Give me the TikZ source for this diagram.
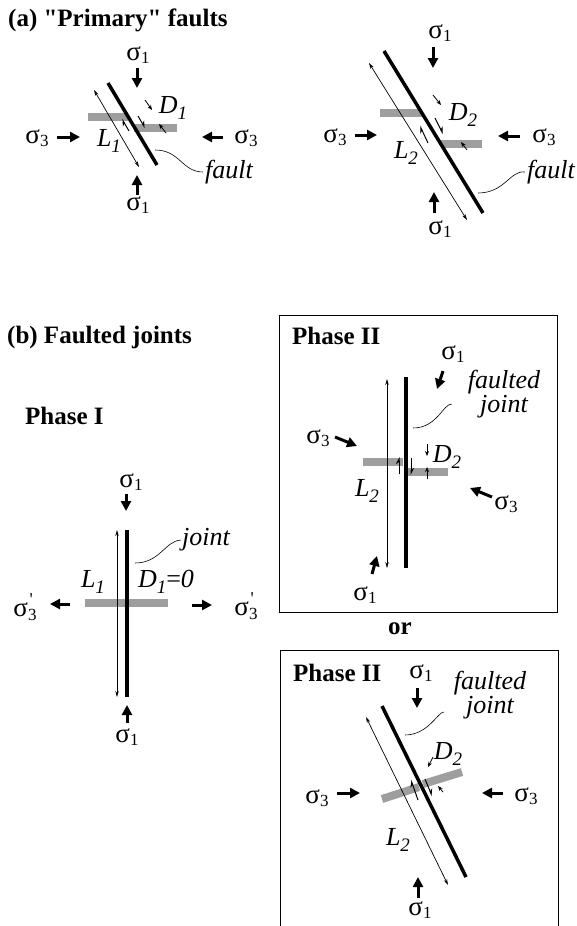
\documentclass[tikz,border=0pt]{standalone}
\usepackage{fontspec}
\setmainfont{Liberation Serif}[Ligatures=TeXOff]
\usetikzlibrary{arrows.meta,positioning,calc}

\newcommand{\sg}[1]{σ\raisebox{-3pt}{\fontsize{17}{17}\selectfont #1}}
\newcommand{\sgp}[1]{σ\raisebox{-4pt}{\fontsize{17}{17}\selectfont\makebox[0pt][l]{\raisebox{15pt}{\kern1.5pt\fontsize{18}{18}\selectfont\symbol{39}}}#1}}
\newcommand{\ilab}[2]{\textit{#1\raisebox{-6pt}{\fontsize{19}{19}\selectfont #2}}}

\begin{document}
\begin{tikzpicture}[x=1pt,y=-1pt,
  lbl/.style={inner sep=0pt,font=\fontsize{27}{27}\selectfont},
  ttl/.style={inner sep=0pt,anchor=base west,font=\fontsize{25}{25}\selectfont\bfseries},
  ital/.style={inner sep=0pt,font=\fontsize{26}{26}\selectfont\itshape},
  stress/.style={line width=3pt,-{Triangle[length=10pt,width=10pt]}},
  fault/.style={line width=3.5pt},
  len/.style={line width=0.7pt,{Stealth[length=6pt,width=3.5pt]}-{Stealth[length=6pt,width=3.5pt]}},
  slip/.style={line width=1pt,-{Stealth[harpoon,length=6pt,width=6pt]}},
  dmark/.style={line width=0.8pt,-{Stealth[length=5pt,width=4pt]}},
  band/.style={line width=8pt,draw=black!38},
  lead/.style={line width=0.6pt},
  frame/.style={line width=0.8pt}]
  \useasboundingbox (0,0) rectangle (576,926);

  % (a) primary fault, short
  \node[ttl] (titleA) at (8,26) {(a) "Primary" faults};
  \draw[band] (88,116.5) -- (128,116.5);
  \draw[band] (134,127.5) -- (177,127.5);
  \coordinate (fA1) at (108,83);
  \coordinate (fA2) at (157,165);
  \draw[fault] (fA1) -- (fA2);
  \draw[len] (94,90) -- (139,167);
  \draw[slip] (129,131) -- (122,119);
  \draw[slip] (138,116) -- (145,128);
  \draw[dmark] (145,100) -- (152,110);
  \draw[dmark] (166,133) -- (159,124);
  \draw[stress] (137,68) -- (137,88);
  \draw[stress] (137,195) -- (137,175);
  \draw[stress] (57,137) -- (80,137);
  \draw[stress] (223,137) -- (202,137);
  \node[lbl] (s1At) at (138,55) {\sg{1}};
  \node[lbl] (s1Ab) at (138,205) {\sg{1}};
  \node[lbl] (s3Al) at (37,138) {\sg{3}};
  \node[lbl] (s3Ar) at (246,138) {\sg{3}};
  \node[ital] (LA) at (109,141) {\ilab{L}{1}};
  \node[ital] (DA) at (173,108) {\ilab{D}{1}};
  \node[ital] (fltA) at (229,172) {fault};
  \coordinate (lA) at (155,150);
  \draw[lead] (lA) .. controls (180,150) and (182,172) .. ([xshift=-2pt]fltA.west);

  % (a) primary fault, long
  \draw[band] (380,113) -- (422,113);
  \draw[band] (441,144) -- (482,144);
  \coordinate (fB1) at (384,51);
  \coordinate (fB2) at (483,213);
  \draw[fault] (fB1) -- (fB2);
  \draw[len] (369,63) -- (467,220);
  \draw[slip] (428,143) -- (420,126);
  \draw[slip] (435,118) -- (443,134);
  \draw[dmark] (433,95) -- (441,105);
  \draw[dmark] (467,150) -- (461,142);
  \draw[stress] (433,47) -- (433,68);
  \draw[stress] (434,213) -- (434,192);
  \draw[stress] (355,135) -- (377,135);
  \draw[stress] (520,136) -- (498,136);
  \node[lbl] (s1Bt) at (440,33) {\sg{1}};
  \node[lbl] (s1Bb) at (440,229) {\sg{1}};
  \node[lbl] (s3Bl) at (335,137) {\sg{3}};
  \node[lbl] (s3Br) at (544,137) {\sg{3}};
  \node[ital] (LB) at (406,153) {\ilab{L}{2}};
  \node[ital] (DB) at (463,115) {\ilab{D}{2}};
  \node[ital] (fltB) at (551,172) {fault};
  \coordinate (lB) at (478,193);
  \draw[lead] (lB) .. controls (505,193) and (510,170) .. ([xshift=-2pt]fltB.west);

  % (b) phase I, opening joint
  \node[ttl] (titleB) at (7,343) {(b) Faulted joints};
  \node[ttl] (ph1) at (25,424) {Phase I};
  \draw[band] (85,603) -- (168,603);
  \draw[fault] (127,530) -- (127,697);
  \draw[len] (117,530) -- (117,697);
  \draw[stress] (126,494) -- (126,511);
  \draw[stress] (127,723) -- (127,705);
  \draw[stress] (70,604) -- (50,604);
  \draw[stress] (192,605) -- (212,605);
  \node[lbl] (s1Ct) at (131,482) {\sg{1}};
  \node[lbl] (s1Cb) at (127,737) {\sg{1}};
  \node[lbl] (s3Cl) at (25,607) {\sgp{3}};
  \node[lbl] (s3Cr) at (246,606) {\sgp{3}};
  \node[ital] (LC) at (93,582) {\ilab{L}{1}};
  \node[ital] (DC) at (166,582) {\ilab{D}{1}\upshape=\itshape 0};
  \node[ital] (jtC) at (206,540) {joint};
  \coordinate (lC) at (135,563);
  \draw[lead] (lC) .. controls (160,563) and (165,541) .. ([xshift=-1pt]jtC.west);

  % (b) phase II, joint reactivated in place
  \draw[frame] (279,315) rectangle (557,612);
  \node[ttl] (ph2a) at (292,344) {Phase II};
  \draw[band] (363,462) -- (403,462);
  \draw[band] (408,472) -- (448,472);
  \draw[fault] (406,377) -- (406,568);
  \draw[len] (387,379) -- (387,568);
  \draw[slip] (399,474) -- (399,457);
  \draw[slip] (411,458) -- (411,475);
  \draw[dmark] (427,444) -- (427,456);
  \draw[dmark] (427,479) -- (427,467);
  \draw[stress] (443,371) -- (437,389);
  \draw[stress] (372,574) -- (377,556);
  \draw[stress] (335,437) -- (357,446);
  \draw[stress] (492,497) -- (470,488);
  \node[lbl] (s1Dt) at (453,354) {\sg{1}};
  \node[lbl] (s1Db) at (365,595) {\sg{1}};
  \node[lbl] (s3Dl) at (318,438) {\sg{3}};
  \node[lbl] (s3Dr) at (506,504) {\sg{3}};
  \node[ital] (LD) at (367,491) {\ilab{L}{2}};
  \node[ital] (DD) at (447,457) {\ilab{D}{2}};
  \node[ital,align=center,font=\fontsize{26}{22}\selectfont\itshape] (fjD) at (504,394) {faulted\\joint};
  \coordinate (lD) at (413,428);
  \draw[lead] (lD) .. controls (437,428) and (443,404) .. ([xshift=-16pt]fjD.south west |- 0,404);

  \node[lbl,font=\fontsize{25}{25}\selectfont\bfseries] (or) at (400,629) {or};

  % (b) phase II, joint turned into the fault
  \draw[frame] (280,926) -- (280,650) -- (558,650) -- (558,926);
  \node[ttl] (ph2b) at (293,681) {Phase II};
  \draw[band] (382,799) -- (419,787);
  \draw[band] (423,784) -- (462,772);
  \draw[fault] (382,706) -- (466,877);
  \draw[len] (366,717) -- (448,885);
  \draw[slip] (418,800) -- (411,780);
  \draw[slip] (425,779) -- (432,796);
  \draw[dmark] (433,757) -- (428,767);
  \draw[dmark] (443,792) -- (438,786);
  \draw[stress] (417,688) -- (417,708);
  \draw[stress] (418,898) -- (418,877);
  \draw[stress] (337,793) -- (360,793);
  \draw[stress] (503,793) -- (482,793);
  \node[lbl] (s1Et) at (421,673) {\sg{1}};
  \node[lbl] (s1Eb) at (420,910) {\sg{1}};
  \node[lbl] (s3El) at (317,798) {\sg{3}};
  \node[lbl] (s3Er) at (526,796) {\sg{3}};
  \node[ital] (LE) at (398,840) {\ilab{L}{2}};
  \node[ital] (DE) at (448,754) {\ilab{D}{2}};
  \node[ital,align=center,font=\fontsize{26}{22}\selectfont\itshape] (fjE) at (490,695) {faulted\\joint};
  \coordinate (lE) at (405,735);
  \draw[lead] (lE) .. controls (428,735) and (438,712) .. ([xshift=-10pt]fjE.south west |- 0,712);
\end{tikzpicture}
\end{document}
